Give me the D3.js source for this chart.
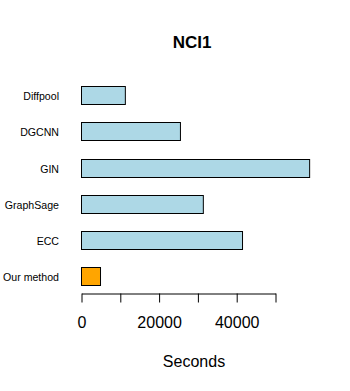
<!DOCTYPE html>
<html><head><meta charset="utf-8">
<script src="https://cdn.jsdelivr.net/npm/d3@7"></script>
<style>body{margin:0;background:#fff}svg{display:block}text{font-family:"Liberation Sans",Arial,sans-serif;fill:#000}</style>
</head><body>
<script>
const categories = ["Diffpool", "DGCNN", "GIN", "GraphSage", "ECC", "Our method"];
const seconds = [11300, 25500, 58800, 31400, 41500, 4900];
const barColors = ["#ADD8E6", "#ADD8E6", "#ADD8E6", "#ADD8E6", "#ADD8E6", "#FFA500"];
const tickValues = [0, 10000, 20000, 30000, 40000, 50000];
const tickLabels = ["0", "", "20000", "", "40000", ""];
const title = "NCI1";
const xTitle = "Seconds";

const W = 350, H = 391;
const svg = d3.select("body").append("svg").attr("width", W).attr("height", H);

const x = d3.scaleLinear().domain([0, 50000]).range([81.5, 275.5]);
const y = d3.scaleBand().domain(categories).range([77, 294.4]).paddingInner(0.5).paddingOuter(0.25);

svg.append("g").selectAll("rect").data(categories).join("rect")
  .attr("x", x(0))
  .attr("y", d => Math.round(y(d)) + 0.5)
  .attr("width", (d, i) => x(seconds[i]) - x(0))
  .attr("height", Math.round(y.bandwidth()))
  .attr("fill", (d, i) => barColors[i])
  .attr("stroke", "#000").attr("stroke-width", 1);

svg.append("g").selectAll("text").data(categories).join("text")
  .attr("x", 59).attr("y", d => y(d) + y.bandwidth() / 2 + 5)
  .attr("text-anchor", "end").attr("font-size", "10.6px").text(d => d);

const axis = d3.axisBottom(x).tickValues(tickValues).tickSize(9).tickSizeOuter(0)
  .tickFormat((d, i) => tickLabels[i]);
const gA = svg.append("g").attr("transform", "translate(0,293.5)").call(axis);
gA.select(".domain").attr("stroke", "#000");
gA.selectAll(".tick line").attr("stroke", "#000");
gA.selectAll(".tick text").attr("font-size", "16px").attr("font-family", "Liberation Sans, Arial, sans-serif")
  .attr("fill", "#000").attr("dy", 0).attr("y", 34);

svg.append("text").attr("x", 194).attr("y", 367).attr("text-anchor", "middle")
  .attr("font-size", "16px").text(xTitle);
svg.append("text").attr("x", 192).attr("y", 48).attr("text-anchor", "middle")
  .attr("font-size", "17px").attr("font-weight", "bold").text(title);
</script>
</body></html>
